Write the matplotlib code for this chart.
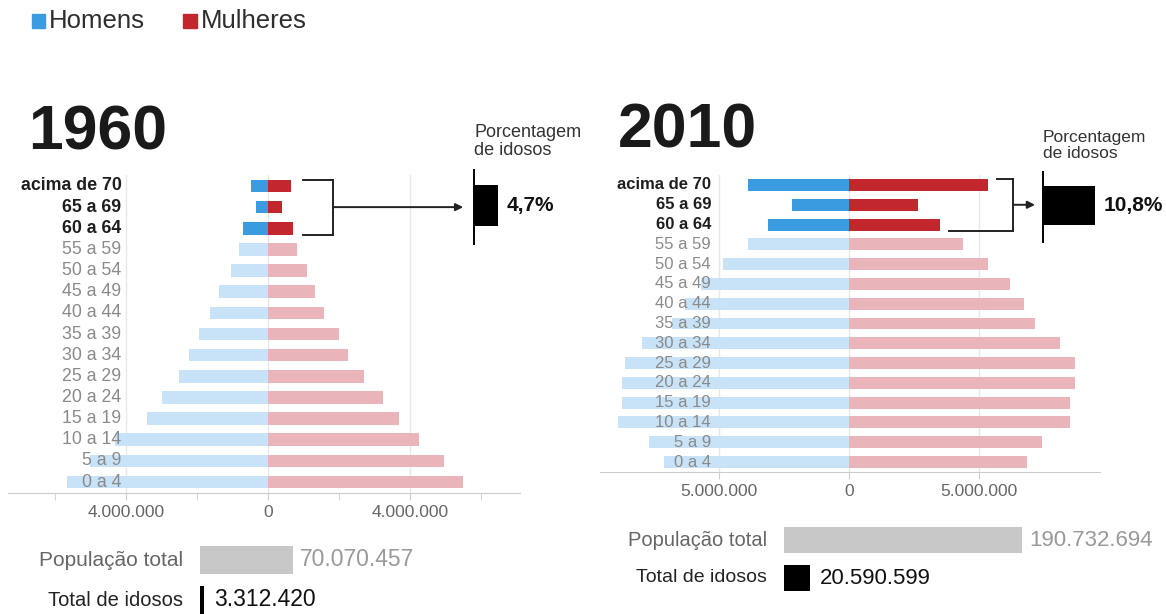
import numpy as np
import matplotlib
matplotlib.use('Agg')
import matplotlib.pyplot as plt
from matplotlib.ticker import FixedLocator, FuncFormatter

plt.rcParams['font.family'] = ['Liberation Sans', 'DejaVu Sans']

# faixas etarias, de baixo para cima
faixas = ['0 a 4', '5 a 9', '10 a 14', '15 a 19', '20 a 24', '25 a 29', '30 a 34',
          '35 a 39', '40 a 44', '45 a 49', '50 a 54', '55 a 59', '60 a 64',
          '65 a 69', 'acima de 70']

# populacao em milhoes
homens_1960 = [5.66, 5.0, 4.3, 3.4, 2.98, 2.5, 2.22, 1.94, 1.63, 1.38, 1.05, 0.82, 0.70, 0.34, 0.48]
mulheres_1960 = [5.5, 4.96, 4.25, 3.7, 3.23, 2.7, 2.25, 2.0, 1.58, 1.32, 1.1, 0.82, 0.72, 0.40, 0.64]
homens_2010 = [7.1, 7.7, 8.9, 8.75, 8.75, 8.6, 7.95, 6.8, 6.3, 5.7, 4.85, 3.9, 3.1, 2.2, 3.9]
mulheres_2010 = [6.85, 7.42, 8.5, 8.5, 8.69, 8.69, 8.12, 7.15, 6.73, 6.19, 5.35, 4.4, 3.5, 2.65, 5.35]

anos = ['1960', '2010']
pct_idosos = [4.7, 10.8]
pop_total = [70070457, 190732694]
total_idosos = [3312420, 20590599]

AZUL, AZUL_CLARO = '#3a9be0', '#c8e3f7'
VERM, VERM_CLARO = '#c3272e', '#eab5ba'

W, H = 1166, 614
fig = plt.figure(figsize=(W / 100, H / 100), dpi=100)


def px_axes(x0, y0, x1, y1):
    # retangulo em pixels (origem no topo esquerdo)
    return fig.add_axes([x0 / W, 1 - y1 / H, (x1 - x0) / W, (y1 - y0) / H])


def fmt_milhoes(v, pos):
    return f'{abs(v) * 1e6:,.0f}'.replace(',', '.')


def piramide(ax, homens, mulheres, xlim, major, minor, label_x, fs):
    y = np.arange(len(faixas))
    destaque = [i >= 12 for i in y]
    ch = [AZUL if d else AZUL_CLARO for d in destaque]
    cm = [VERM if d else VERM_CLARO for d in destaque]
    for t in major:
        ax.axvline(t, color='#e8e8e8', lw=1, zorder=0)
    ax.barh(y, [-v for v in homens], height=0.6, color=ch, zorder=2)
    ax.barh(y, mulheres, height=0.6, color=cm, zorder=2)
    ax.set_xlim(*xlim)
    ax.set_ylim(-0.5, len(faixas) - 0.5)
    ax.xaxis.set_major_locator(FixedLocator(major))
    ax.xaxis.set_minor_locator(FixedLocator(minor))
    ax.xaxis.set_major_formatter(FuncFormatter(fmt_milhoes))
    ax.tick_params(axis='x', which='both', length=5, color='#cccccc',
                   labelcolor='#666666', labelsize=12.5, pad=4)
    ax.set_yticks([])
    for s in ['top', 'right', 'left']:
        ax.spines[s].set_visible(False)
    ax.spines['bottom'].set_color('#cccccc')
    ax.patch.set_alpha(0)
    for i, f in enumerate(faixas):
        ax.text(label_x, i, f, ha='right', va='center', fontsize=fs, zorder=3,
                fontweight='bold' if destaque[i] else 'normal',
                color='#1e1e1e' if destaque[i] else '#8a8a8a')


def chave(ax, x_ini_top, x_ini_bot, x_vert, x_seta):
    top, bot, mid = 14.3, 11.7, 13
    kw = dict(color='#222222', lw=1.4, clip_on=False)
    ax.plot([x_ini_top, x_vert], [top, top], **kw)
    ax.plot([x_ini_bot, x_vert], [bot, bot], **kw)
    ax.plot([x_vert, x_vert], [top, bot], **kw)
    ax.annotate('', xy=(x_seta, mid), xytext=(x_vert, mid),
                arrowprops=dict(arrowstyle='-|>', color='#222222', lw=1.4,
                                mutation_scale=11, shrinkA=0, shrinkB=0),
                annotation_clip=False)


def porcentagem(box, pct, escala, fs_tit):
    x0, y0, y1 = box
    axp = px_axes(x0, y0, x0 + 120, y1)
    axp.barh([0], [pct], height=0.55, color='black')
    axp.set_xlim(0, 120 / escala)
    axp.set_ylim(-0.52, 0.48)
    for s in ['top', 'right', 'bottom']:
        axp.spines[s].set_visible(False)
    axp.spines['left'].set_linewidth(1.4)
    axp.set_xticks([])
    axp.set_yticks([])
    axp.patch.set_alpha(0)
    axp.annotate(f'{pct:.1f}%'.replace('.', ','), xy=(pct, 0), xytext=(6, 0),
                 textcoords='offset points', ha='left', va='center',
                 fontsize=15, fontweight='bold', color='#111111')
    fig.text(x0 / W, 1 - (y0 - 11) / H, 'Porcentagem\nde idosos', ha='left',
             va='bottom', fontsize=fs_tit, color='#333333', linespacing=1.05)


def totais(box, pop, idosos, escala, fs):
    x0, y0, y1 = box
    axt = px_axes(x0, y0, x0 + 360, y1)
    axt.barh([0], [pop / 1e6], height=0.7, color='#c8c8c8')
    axt.barh([1], [idosos / 1e6], height=0.7, color='black')
    axt.set_xlim(0, 360 / escala)
    axt.set_ylim(1.5, -0.5)
    axt.axis('off')
    axt.annotate('População total', xy=(0, 0), xytext=(-12, 0), textcoords='offset points',
                 ha='right', va='center', fontsize=fs, color='#666666')
    axt.annotate('Total de idosos', xy=(0, 1), xytext=(-12, 0), textcoords='offset points',
                 ha='right', va='center', fontsize=fs - 0.5, color='#222222')
    axt.annotate(f'{pop:,}'.replace(',', '.'), xy=(pop / 1e6, 0), xytext=(5, 0),
                 textcoords='offset points', ha='left', va='center',
                 fontsize=fs + 1.5, color='#999999')
    axt.annotate(f'{idosos:,}'.replace(',', '.'), xy=(idosos / 1e6, 1), xytext=(7, 0),
                 textcoords='offset points', ha='left', va='center',
                 fontsize=fs + 1.5, color='#111111')


# legenda
fig.patches.append(plt.Rectangle((32 / W, 1 - 28 / H), 13 / W, 14 / H,
                                 transform=fig.transFigure, color=AZUL))
fig.text(49 / W, 1 - 21 / H, 'Homens', fontsize=18.5, color='#2e2e2e', va='center')
fig.patches.append(plt.Rectangle((183 / W, 1 - 28 / H), 14 / W, 14 / H,
                                 transform=fig.transFigure, color=VERM))
fig.text(201 / W, 1 - 21 / H, 'Mulheres', fontsize=18.5, color='#2e2e2e', va='center')

# 1960
fig.text(28 / W, 1 - 149 / H, anos[0], fontsize=45, fontweight='bold',
         color='#1a1a1a', va='baseline')
ax1 = px_axes(8, 175.4, 520, 492.6)
piramide(ax1, homens_1960, mulheres_1960, (-7.32, 7.1), [-4, 0, 4],
         [-6, -2, 2, 6], -4.12, 12.8)
chave(ax1, 0.98, 0.98, 1.83, 5.5)
porcentagem((474, 170, 244), pct_idosos[0], 5.1, 13)
totais((200, 540, 620), pop_total[0], total_idosos[0], 1.33, 15)

# 2010
fig.text(618 / W, 1 - 147 / H, anos[1], fontsize=45, fontweight='bold',
         color='#1a1a1a', va='baseline')
ax2 = px_axes(600, 175.1, 1100, 471.9)
piramide(ax2, homens_2010, mulheres_2010, (-9.58, 9.65), [-5, 0, 5], [],
         -5.31, 12)
chave(ax2, 5.7, 3.85, 6.3, 7.15)
porcentagem((1043, 172, 242), pct_idosos[1], 4.82, 12.5)
totais((784, 521, 597), pop_total[1], total_idosos[1], 1.25, 14.5)

fig.savefig('out.png', dpi=100)
